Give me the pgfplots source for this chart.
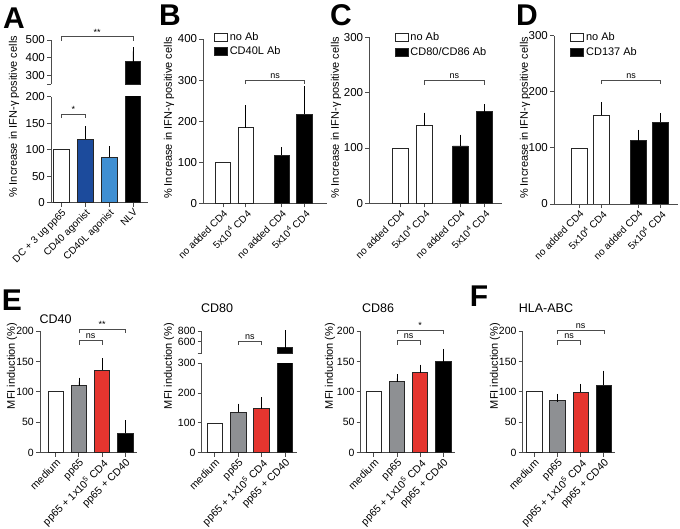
\documentclass[border=0pt]{standalone}
\usepackage{fontspec}
\setmainfont{Liberation Sans}
\usepackage{pgfplots}
\pgfplotsset{compat=1.18}
\definecolor{axc}{gray}{0.3}
\definecolor{dblue}{HTML}{1C4B9C}
\definecolor{lblue}{HTML}{3F8FD2}
\definecolor{mgrey}{HTML}{8E9093}
\definecolor{mred}{HTML}{E5352F}
\pgfplotsset{
  prism/.style={
    scale only axis, anchor=south west,
    axis x line*=bottom, axis y line*=left,
    axis line style={line width=0.9pt, axc},
    every tick/.style={line width=0.9pt, axc},
    tick align=outside, major tick length=4pt,
    /pgf/number format/assume math mode=true,
    /pgf/number format/1000 sep={},
    yticklabel style={font=\fontsize{11.5}{13}\selectfont, inner sep=2pt},
    xticklabel style={rotate=45, anchor=north east, inner sep=1pt, font=\fontsize{10}{12}\selectfont},
    ymin=0, clip mode=individual,
  },
  bot/.style={
    yticklabel style={font=\fontsize{10.5}{12}\selectfont, inner sep=2pt},
    xticklabel style={font=\fontsize{10.5}{12}\selectfont},
  },
  upper/.style={
    scale only axis, anchor=south west,
    axis x line=none, axis y line*=left,
    axis line style={line width=0.9pt, axc},
    every tick/.style={line width=0.9pt, axc},
    tick align=outside, major tick length=4pt,
    /pgf/number format/assume math mode=true,
    /pgf/number format/1000 sep={},
    yticklabel style={font=\fontsize{11.5}{13}\selectfont, inner sep=2pt},
    clip mode=individual,
  },
  pbar/.style={ybar, bar width=15.5pt, bar shift=0pt, draw=black!85, line width=0.8pt, fill=#1},
  eb/.style={error bars/y dir=plus, error bars/y explicit, error bars/error mark=-,
    error bars/error bar style={line width=0.8pt, black},
    error bars/error mark options={line width=0.8pt, black, mark size=4pt}},
  leg/.style={legend style={at={(axis description cs:#1)}, anchor=north west, draw=none, fill=none,
    inner sep=0pt, row sep=1pt, font=\fontsize{11}{13}\selectfont, cells={anchor=west}},
    legend image code/.code={\draw[##1] (0pt,-4pt) rectangle (13pt,4pt);}},
}
\newcommand{\brk}[3]{\draw[axc, line width=0.7pt] ([yshift=-4pt]axis cs:#1,#3) -- (axis cs:#1,#3) -- (axis cs:#2,#3) -- ([yshift=-4pt]axis cs:#2,#3);}
\newcommand{\sig}[4]{\brk{#1}{#2}{#3}\node[font=\fontsize{9}{10}\selectfont, above, inner sep=1.5pt] at (axis cs:{(#1+#2)/2},#3) {#4};}
\begin{document}
\begin{tikzpicture}
\useasboundingbox (0,0) rectangle (680pt,528pt);
% ---------- Panel A ----------
\begin{axis}[prism, at={(51pt,325.3pt)}, width=97pt, height=106pt,
  xmin=-0.44, xmax=3.63, ymax=200, ytick={0,50,100,150,200},
  xtick={0,1,2,3}, xticklabels={DC + 3 ug pp65, CD40 agonist, CD40L agonist, NLV}]
\addplot[pbar=white] coordinates {(0,100)};
\addplot[pbar=dblue, eb] coordinates {(1,120) +- (0,17)};
\addplot[pbar=lblue, eb] coordinates {(2,86) +- (0,13)};
\addplot[pbar=black] coordinates {(3,379)};
\sig{0}{1}{167}{*}
\end{axis}
\begin{axis}[upper, at={(51pt,443.5pt)}, width=97pt, height=44.5pt,
  xmin=-0.44, xmax=3.63, ymin=250, ymax=500, ytick={300,400,500},
  extra y ticks={250}, extra y tick labels={}]
\addplot[pbar=black, eb] coordinates {(3,379) +- (0,57)};
\sig{0}{3}{518}{**}
\end{axis}
% ---------- Panel B ----------
\begin{axis}[prism, at={(203.3pt,324.7pt)}, width=123.4pt, height=164.3pt,
  xmin=-0.864, xmax=4.55, ymax=400, ytick={0,100,200,300,400},
  xtick={0,1,2.58,3.58}, xticklabels={no added CD4, 5x10\textsuperscript{4} CD4, no added CD4, 5x10\textsuperscript{4} CD4},
  leg={0.085,1.055}]
\addplot[pbar=white, eb] coordinates {(1,184) +- (0,45)};
\addlegendentry{no Ab}
\addplot[pbar=black, eb] coordinates {(2.58,117.5) +- (0,9.5) (3.58,216.5) +- (0,59.5)};
\addlegendentry{CD40L Ab}
\addplot[pbar=white, forget plot] coordinates {(0,100)};
\sig{1}{3.58}{300}{ns}
\end{axis}
% ---------- Panel C ----------
\begin{axis}[prism, at={(369.3pt,324.7pt)}, width=132.4pt, height=166pt,
  xmin=-1.29, xmax=4.22, ymax=300, ytick={0,100,200,300},
  xtick={0,1,2.5,3.5}, xticklabels={no added CD4, 5x10\textsuperscript{4} CD4, no added CD4, 5x10\textsuperscript{4} CD4},
  leg={0.19,1.04}]
\addplot[pbar=white, eb] coordinates {(1,140) +- (0,16.6)};
\addlegendentry{no Ab}
\addplot[pbar=black, eb] coordinates {(2.5,103.6) +- (0,13.2) (3.5,165.6) +- (0,6.2)};
\addlegendentry{CD80/CD86 Ab}
\addplot[pbar=white, forget plot] coordinates {(0,100)};
\sig{1}{3.5}{221.7}{ns}
\end{axis}
% ---------- Panel D ----------
\begin{axis}[prism, at={(554pt,324pt)}, width=124pt, height=168.3pt,
  xmin=-1.13, xmax=4.43, ymax=300, ytick={0,100,200,300},
  xtick={0,1,2.65,3.65}, xticklabels={no added CD4, 5x10\textsuperscript{4} CD4, no added CD4, 5x10\textsuperscript{4} CD4},
  leg={0.13,1.03}]
\addplot[pbar=white, eb] coordinates {(1,158) +- (0,16)};
\addlegendentry{no Ab}
\addplot[pbar=black, eb] coordinates {(2.65,113) +- (0,12) (3.65,146) +- (0,9)};
\addlegendentry{CD137 Ab}
\addplot[pbar=white, forget plot] coordinates {(0,100)};
\sig{1}{3.65}{221}{ns}
\end{axis}
% ---------- Panel E: CD40 ----------
\begin{axis}[prism, bot, at={(40pt,75.3pt)}, width=97.3pt, height=121.7pt,
  xmin=-0.68, xmax=3.52, ymax=200, ytick={0,50,100,150,200},
  xtick={0,1,2,3}, xticklabels={medium, pp65, pp65 + 1x10\textsuperscript{5} CD4, pp65 + CD40}]
\addplot[pbar=white] coordinates {(0,100)};
\addplot[pbar=mgrey, eb] coordinates {(1,109.8) +- (0,7.2)};
\addplot[pbar=mred, eb] coordinates {(2,135.3) +- (0,13)};
\addplot[pbar=black, eb] coordinates {(3,31.8) +- (0,14.8)};
\sig{1}{3}{203}{**}
\sig{1}{2}{184}{ns}
\end{axis}
% ---------- CD80 ----------
\begin{axis}[prism, bot, at={(201.7pt,75.3pt)}, width=95pt, height=89.4pt,
  xmin=-0.56, xmax=3.5, ymax=300, ytick={0,100,200,300},
  xtick={0,1,2,3}, xticklabels={medium, pp65, pp65 + 1x10\textsuperscript{5} CD4, pp65 + CD40}]
\addplot[pbar=white] coordinates {(0,100)};
\addplot[pbar=mgrey, eb] coordinates {(1,136.7) +- (0,14.3)};
\addplot[pbar=mred, eb] coordinates {(2,148) +- (0,25)};
\addplot[pbar=black] coordinates {(3,488)};
\end{axis}
\begin{axis}[upper, bot, at={(201.7pt,174.7pt)}, width=95pt, height=22.3pt,
  xmin=-0.56, xmax=3.5, ymin=383, ymax=800, ytick={600,800},
  extra y ticks={383}, extra y tick labels={}]
\addplot[pbar=black, eb] coordinates {(3,488) +- (0,269)};
\sig{1}{2}{613}{ns}
\end{axis}
% ---------- CD86 ----------
\begin{axis}[prism, bot, at={(360.7pt,75.3pt)}, width=94.3pt, height=121.7pt,
  xmin=-0.57, xmax=3.51, ymax=200, ytick={0,50,100,150,200},
  xtick={0,1,2,3}, xticklabels={medium, pp65, pp65 + 1x10\textsuperscript{5} CD4, pp65 + CD40}]
\addplot[pbar=white] coordinates {(0,100)};
\addplot[pbar=mgrey, eb] coordinates {(1,116.5) +- (0,5.5)};
\addplot[pbar=mred, eb] coordinates {(2,131.3) +- (0,6.7)};
\addplot[pbar=black, eb] coordinates {(3,149.4) +- (0,14.6)};
\sig{1}{3}{201.5}{*}
\sig{1}{2}{184}{ns}
\end{axis}
% ---------- HLA-ABC ----------
\begin{axis}[prism, bot, at={(522.7pt,75.3pt)}, width=92.3pt, height=121.7pt,
  xmin=-0.5, xmax=3.48, ymax=200, ytick={0,50,100,150,200},
  xtick={0,1,2,3}, xticklabels={medium, pp65, pp65 + 1x10\textsuperscript{5} CD4, pp65 + CD40}]
\addplot[pbar=white] coordinates {(0,100)};
\addplot[pbar=mgrey, eb] coordinates {(1,85.8) +- (0,4.2)};
\addplot[pbar=mred, eb] coordinates {(2,99.4) +- (0,7.1)};
\addplot[pbar=black, eb] coordinates {(3,110.9) +- (0,17.5)};
\sig{1}{3}{201.5}{ns}
\sig{1}{2}{184}{ns}
\end{axis}
% ---------- letters, labels, titles ----------
\tikzset{pl/.style={font=\fontsize{30}{32}\selectfont\bfseries}, yl/.style={rotate=90, font=\fontsize{11}{13}\selectfont}, tt/.style={font=\fontsize{12.5}{14}\selectfont}}
\node[pl] at (14pt,510pt) {A};
\node[pl] at (170pt,513pt) {B};
\node[pl] at (341pt,513pt) {C};
\node[pl] at (527pt,513pt) {D};
\node[pl] at (12pt,228pt) {E};
\node[pl] at (479pt,232pt) {F};
\node[yl] at (14pt,411pt) {\% Increase in IFN-γ positive cells};
\node[yl] at (169pt,410pt) {\% Increase in IFN-γ positive cells};
\node[yl] at (336pt,410pt) {\% Increase in IFN-γ positive cells};
\node[yl] at (525pt,410pt) {\% Increase in IFN-γ positive cells};
\node[yl] at (12pt,162pt) {MFI induction (\%)};
\node[yl] at (169pt,162pt) {MFI induction (\%)};
\node[yl] at (330pt,162pt) {MFI induction (\%)};
\node[yl] at (495pt,162pt) {MFI induction (\%)};
\node[tt] at (55.5pt,209pt) {CD40};
\node[tt] at (217pt,220pt) {CD80};
\node[tt] at (378pt,220pt) {CD86};
\node[tt] at (546pt,220pt) {HLA-ABC};
\end{tikzpicture}
\end{document}
